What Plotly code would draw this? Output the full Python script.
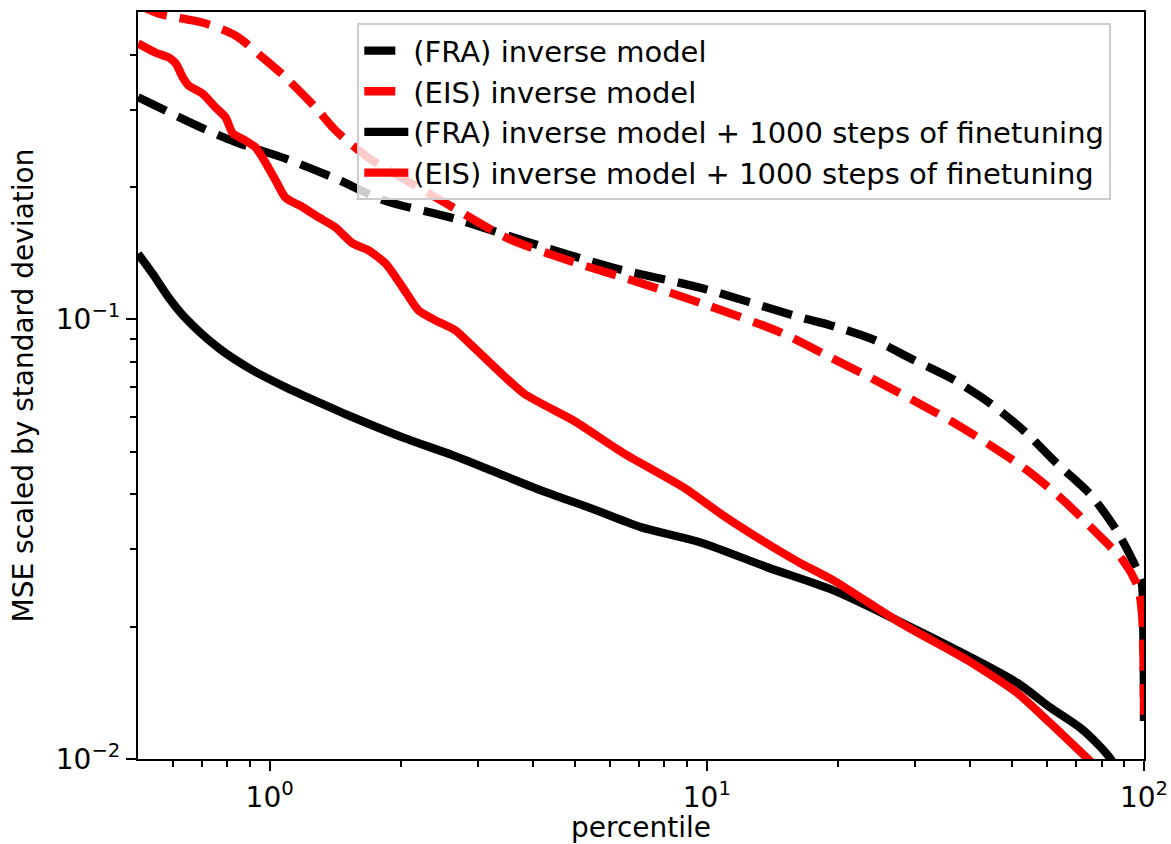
import plotly.graph_objects as go

# ---- data ----
fra_inv_x = [0.5, 0.703, 0.836, 1.088, 1.415, 1.841, 2.62, 3.89, 6.11, 9.66, 16.36, 19.15, 24.0,
             29.6, 36.6, 44.4, 52.9, 63.2, 75.3, 86.7, 96.3, 98.9, 99.5, 99.8, 99.95, 100]
fra_inv_y = [0.320, 0.272, 0.253, 0.232, 0.209, 0.186, 0.170, 0.150, 0.131, 0.118, 0.101, 0.097, 0.090,
             0.081, 0.073, 0.0645, 0.056, 0.047, 0.040, 0.033, 0.027, 0.025, 0.021, 0.017, 0.014, 0.0122]

eis_inv_x = [0.5, 0.557, 0.703, 0.836, 0.964, 1.088, 1.274, 1.415, 1.684, 2.19, 2.62, 3.50, 4.95, 7.05, 10.03,
             14.73, 19.15, 23.6, 29.6, 36.6, 45.2, 54.0, 65.3, 78.1, 89.5, 96.9, 98.9, 99.5, 99.8, 99.95, 100]
eis_inv_y = [0.52, 0.496, 0.473, 0.442, 0.394, 0.355, 0.303, 0.269, 0.233, 0.1995, 0.180, 0.153, 0.135, 0.121,
             0.1076, 0.0934, 0.082, 0.0738, 0.0655, 0.0583, 0.0512, 0.0454, 0.0388, 0.0326, 0.0283, 0.0246,
             0.0215, 0.019, 0.016, 0.014, 0.0122]

fra_ft_x = [0.5, 0.540, 0.588, 0.643, 0.765, 0.914, 1.088, 1.294, 1.548, 2.014, 2.62, 3.20, 4.16, 5.42, 7.05,
            9.66, 13.75, 19.46, 27.7, 39.4, 51.3, 61.0, 72.5, 83.6, 90]
fra_ft_y = [0.141, 0.127, 0.112, 0.1005, 0.086, 0.0766, 0.0701, 0.0648, 0.0599, 0.0539, 0.0491, 0.0454, 0.0409,
            0.0372, 0.0337, 0.0311, 0.0273, 0.0242, 0.0205, 0.0172, 0.0149, 0.0131, 0.01164, 0.01005, 0.0088]

eis_ft_x = [0.5, 0.549, 0.588, 0.610, 0.633, 0.653, 0.703, 0.753, 0.793, 0.823, 0.881, 0.929, 0.964, 1.032,
            1.088, 1.190, 1.294, 1.415, 1.548, 1.684, 1.841, 2.014, 2.19, 2.395, 2.66, 2.93, 3.81, 4.95, 6.45,
            8.84, 10.9, 14.19, 16.36, 19.46, 27.7, 39.4, 51.3, 61.0, 74.1, 82]
eis_ft_y = [0.424, 0.404, 0.394, 0.382, 0.355, 0.340, 0.326, 0.303, 0.288, 0.265, 0.255, 0.246, 0.233, 0.207,
            0.189, 0.180, 0.1706, 0.1618, 0.1489, 0.1435, 0.134, 0.1183, 0.1048, 0.0995, 0.0944, 0.0864, 0.0679,
            0.0589, 0.0496, 0.0415, 0.0358, 0.0303, 0.0279, 0.0255, 0.0204, 0.0168, 0.01413, 0.01207, 0.01005,
            0.0091]

names = ["(FRA) inverse model", "(EIS) inverse model",
         "(FRA) inverse model + 1000 steps of finetuning",
         "(EIS) inverse model + 1000 steps of finetuning"]

x_tickvals = [1, 10, 100]
x_ticktext = ["10<sup>0</sup>", "10<sup>1</sup>", "10<sup>2</sup>"]
y_tickvals = [0.01, 0.1]
y_ticktext = ["10<sup>\u22122</sup>", "10<sup>\u22121</sup>"]
x_minor = [0.6, 0.7, 0.8, 0.9, 2, 3, 4, 5, 6, 7, 8, 9, 20, 30, 40, 50, 60, 70, 80, 90]
y_minor = [0.02, 0.03, 0.04, 0.05, 0.06, 0.07, 0.08, 0.09, 0.2, 0.3, 0.4]

FONT = "DejaVu Sans"
FS = 28
LW = 8.3
DASH = "31px,13px"

fig = go.Figure()
fig.add_trace(go.Scatter(x=fra_inv_x, y=fra_inv_y, mode="lines", name=names[0],
                         line=dict(color="black", width=LW, dash=DASH, shape="spline", smoothing=0.8)))
fig.add_trace(go.Scatter(x=eis_inv_x, y=eis_inv_y, mode="lines", name=names[1],
                         line=dict(color="red", width=LW, dash=DASH, shape="spline", smoothing=0.8)))
fig.add_trace(go.Scatter(x=fra_ft_x, y=fra_ft_y, mode="lines", name=names[2],
                         line=dict(color="black", width=LW, shape="spline", smoothing=0.8)))
fig.add_trace(go.Scatter(x=eis_ft_x, y=eis_ft_y, mode="lines", name=names[3],
                         line=dict(color="red", width=LW, shape="spline", smoothing=0.6)))

axis_common = dict(showline=True, linecolor="black", linewidth=2.2, mirror=True,
                   showgrid=False, zeroline=False, ticks="outside", ticklen=10, tickwidth=2.2,
                   tickcolor="black", tickfont=dict(family=FONT, size=FS, color="black"))

fig.update_xaxes(type="log", range=[-0.30103, 2], tickmode="array", tickvals=x_tickvals,
                 ticktext=x_ticktext, ticklabelstandoff=2,
                 minor=dict(tickmode="array", tickvals=x_minor, ticks="outside", ticklen=5.6,
                            tickwidth=1.8, tickcolor="black", showgrid=False),
                 title=dict(text="percentile", font=dict(family=FONT, size=FS, color="black"), standoff=0),
                 **axis_common)
fig.update_yaxes(type="log", range=[-2, -0.301], tickmode="array", tickvals=y_tickvals,
                 ticktext=y_ticktext,
                 minor=dict(tickmode="array", tickvals=y_minor, ticks="outside", ticklen=5.6,
                            tickwidth=1.8, tickcolor="black", showgrid=False),
                 title=dict(text="MSE scaled by standard deviation",
                            font=dict(family=FONT, size=FS, color="black"), standoff=14),
                 **axis_common)

fig.update_layout(
    width=1171, height=844,
    margin=dict(l=138, r=27, t=12, b=85, autoexpand=False),
    paper_bgcolor="white", plot_bgcolor="white",
    font=dict(family=FONT, size=FS, color="black"),
    legend=dict(x=0.218, y=0.985, xanchor="left", yanchor="top",
                bgcolor="rgba(255,255,255,0.8)", bordercolor="#cccccc", borderwidth=2,
                itemwidth=44,
                font=dict(family=FONT, size=29, color="black"), tracegroupgap=0),
    showlegend=True,
)

fig.write_html("out.html")
